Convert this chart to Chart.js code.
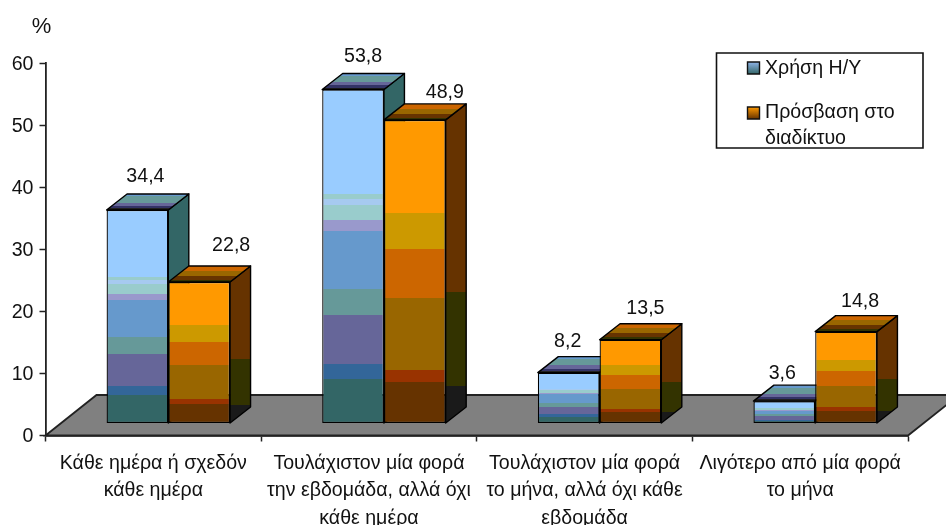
<!DOCTYPE html>
<html lang="el">
<head>
<meta charset="utf-8">
<title>Χρήση Η/Υ και πρόσβαση στο διαδίκτυο</title>
<script src="https://cdn.jsdelivr.net/npm/chart.js@4/dist/chart.umd.min.js"></script>
<style>
html,body{margin:0;padding:0;background:#fff;overflow:hidden}
canvas{display:block;filter:blur(0.4px)}
</style>
</head>
<body>
<canvas id="c" width="946" height="525"></canvas>
<script>
const categories = [
  ["Κάθε ημέρα ή σχεδόν", "κάθε ημέρα"],
  ["Τουλάχιστον μία φορά", "την εβδομάδα, αλλά όχι", "κάθε ημέρα"],
  ["Τουλάχιστον μία φορά", "το μήνα, αλλά όχι κάθε", "εβδομάδα"],
  ["Λιγότερο από μία φορά", "το μήνα"]
];
const computerUse = [34.4, 53.8, 8.2, 3.6];
const internetAccess = [22.8, 48.9, 13.5, 14.8];
const seriesNames = ["Χρήση Η/Υ", "Πρόσβαση στο διαδίκτυο"];
const legendLines = [["Χρήση Η/Υ"], ["Πρόσβαση στο", "διαδίκτυο"]];
const unitLabel = "%";
const yTicks = [0, 10, 20, 30, 40, 50, 60];

// colour bands [end fraction, colour], top to bottom
const blueBands = [[.313,"#99CCFF"],[.329,"#99CCCC"],[.346,"#A6CAF0"],[.392,"#99CCCC"],[.423,"#9999CC"],[.597,"#6699CC"],[.676,"#669999"],[.823,"#666699"],[.867,"#336699"],[1,"#336666"]];
const orangeBands = [[.306,"#FF9900"],[.424,"#CC9900"],[.588,"#CC6600"],[.824,"#996600"],[.864,"#993300"],[1,"#663300"]];
const blueSide = [[.59,"#336666"],[.885,"#003333"],[1,"#1A1A1A"]];
const orangeSide = [[.59,"#663300"],[.885,"#333300"],[1,"#1A1A1A"]];
const blueTop = [[.15,"#6699CC"],[.55,"#669999"],[.75,"#666699"],[.88,"#333366"],[1,"#222222"]];
const orangeTop = [[.3,"#CC6600"],[.6,"#996600"],[.85,"#663300"],[1,"#333300"]];
// label offset from the bar's top centre
const labelNudge = [
  [[8,-33],[10,-33],[-1,-31],[-2,-28]],
  [[32,-36],[30,-27],[15,-31],[14,-30]]
];

const FRONT = {x:15, y:-12};
const DEPTH = {x:20.5, y:-16};
const FLOOR = {x:51, y:-40.5};
const FAMILY = '"Liberation Sans", Arial, sans-serif';
const SIZE = 19.6;
const FONT = SIZE + 'px ' + FAMILY;

function bandGradient(ctx, y0, y1, bands){
  const g = ctx.createLinearGradient(0, y0, 0, y1);
  let prev = 0;
  bands.forEach(([end, col]) => {
    g.addColorStop(prev, col);
    g.addColorStop(end, col);
    prev = end;
  });
  return g;
}
function poly(ctx, pts, fill){
  ctx.beginPath();
  pts.forEach((p,i)=> i ? ctx.lineTo(p[0],p[1]) : ctx.moveTo(p[0],p[1]));
  ctx.closePath();
  ctx.fillStyle = fill;
  ctx.fill();
  ctx.stroke();
}
const sideSets = [blueSide, orangeSide];
const topSets = [blueTop, orangeTop];

const excel3d = {
  id: 'excel3d',
  beforeDatasetsDraw(chart){
    const {ctx, scales:{x, y}} = chart;
    ctx.save();
    ctx.lineWidth = 1.8;
    ctx.strokeStyle = '#222';
    poly(ctx, [[x.left,y.bottom],[x.left+FLOOR.x,y.bottom+FLOOR.y],[x.right+FLOOR.x,y.bottom+FLOOR.y],[x.right,y.bottom]], '#808080');
    ctx.translate(FRONT.x, FRONT.y);
    ctx.lineWidth = 1.4;
    ctx.strokeStyle = '#000';
    ctx.lineJoin = 'round';
    chart.data.datasets.forEach((ds, d) => {
      chart.getDatasetMeta(d).data.forEach(el => {
        const {x, y, base, width} = el.getProps(['x','y','base','width'], true);
        const l = x - width/2, r = x + width/2;
        poly(ctx, [[r,y],[r+DEPTH.x,y+DEPTH.y],[r+DEPTH.x,base+DEPTH.y],[r,base]],
          bandGradient(ctx, y+DEPTH.y, base, sideSets[d]));
        poly(ctx, [[l,y],[r,y],[r+DEPTH.x,y+DEPTH.y],[l+DEPTH.x,y+DEPTH.y]],
          bandGradient(ctx, y+DEPTH.y, y, topSets[d]));
      });
    });
    ctx.restore();
  },
  beforeDatasetDraw(chart){
    chart.ctx.save();
    chart.ctx.translate(FRONT.x, FRONT.y);
  },
  afterDatasetDraw(chart){
    chart.ctx.restore();
  },
  afterDatasetsDraw(chart){
    const {ctx} = chart;
    ctx.save();
    ctx.font = FONT;
    ctx.fillStyle = '#111';
    ctx.textAlign = 'center';
    ctx.textBaseline = 'middle';
    chart.data.datasets.forEach((ds, d) => {
      chart.getDatasetMeta(d).data.forEach((el, i) => {
        const txt = ds.data[i].toFixed(1).replace('.', ',');
        ctx.fillText(txt, el.x + FRONT.x + labelNudge[d][i][0], el.y + FRONT.y + labelNudge[d][i][1]);
      });
    });
    // unit label
    ctx.font = '22px ' + FAMILY;
    ctx.fillText(unitLabel, 41.5, 27);
    // legend box
    ctx.lineWidth = 1.6;
    ctx.strokeStyle = '#111';
    ctx.fillStyle = '#fff';
    ctx.beginPath();
    ctx.rect(716.5, 53, 206.5, 95);
    ctx.fill();
    ctx.stroke();
    ctx.font = FONT;
    ctx.textAlign = 'left';
    const rows = [[68,[69]], [113,[113,139]]];
    const swatch = [["#8FB4E8","#336666"],["#FF9900","#663300"]];
    rows.forEach(([sy, lines], d) => {
      const g = ctx.createLinearGradient(0, sy-6, 0, sy+6);
      g.addColorStop(0, swatch[d][0]);
      g.addColorStop(1, swatch[d][1]);
      ctx.fillStyle = g;
      ctx.lineWidth = 1.4;
      ctx.beginPath();
      ctx.rect(747.5, sy-6, 12, 12);
      ctx.fill();
      ctx.stroke();
      ctx.fillStyle = '#111';
      lines.forEach((ly, j) => ctx.fillText(legendLines[d][j], 765, ly));
    });
    ctx.restore();
  }
};

const bandFill = (bands) => (c) => {
  const y = c.chart.scales.y;
  if (c.type !== 'data' || !y) return bands[0][1];
  const top = y.getPixelForValue(c.dataset.data[c.dataIndex]);
  const bottom = y.getPixelForValue(0);
  if (!Number.isFinite(top) || !Number.isFinite(bottom)) return bands[0][1];
  return bandGradient(c.chart.ctx, top, bottom, bands);
};

new Chart(document.getElementById('c'), {
  type: 'bar',
  plugins: [excel3d],
  data: {
    labels: categories,
    datasets: [
      {label: seriesNames[0], data: computerUse, backgroundColor: bandFill(blueBands)},
      {label: seriesNames[1], data: internetAccess, backgroundColor: bandFill(orangeBands)}
    ]
  },
  options: {
    responsive: false,
    animation: false,
    devicePixelRatio: 1,
    layout: {padding: {top: 63, right: 38, left: 0, bottom: 0}},
    categoryPercentage: 0.5727,
    barPercentage: 1,
    datasets: {bar: {borderColor: '#000', borderWidth: 1.3, borderSkipped: false, clip: false}},
    plugins: {legend: {display: false}, title: {display: false}, tooltip: {enabled: false}},
    scales: {
      x: {
        afterFit(s){ s.height = 89.5; },
        border: {color: '#222', width: 1.8},
        grid: {drawOnChartArea: false, tickLength: 6, color: '#222', tickWidth: 1.5, offset: true},
        ticks: {color: '#111', font: {family: FAMILY, size: SIZE, lineHeight: 1.38}, padding: 9, maxRotation: 0, autoSkip: false}
      },
      y: {
        min: 0, max: 60,
        afterFit(s){ s.width = 45.5; },
        afterBuildTicks(s){ s.ticks = yTicks.map(v => ({value: v})); },
        border: {color: '#222', width: 1.8},
        grid: {drawOnChartArea: false, tickLength: 6, color: '#222', tickWidth: 1.5},
        ticks: {color: '#111', font: {family: FAMILY, size: SIZE}, padding: 6, labelOffset: 1.5}
      }
    }
  }
});
</script>
</body>
</html>
